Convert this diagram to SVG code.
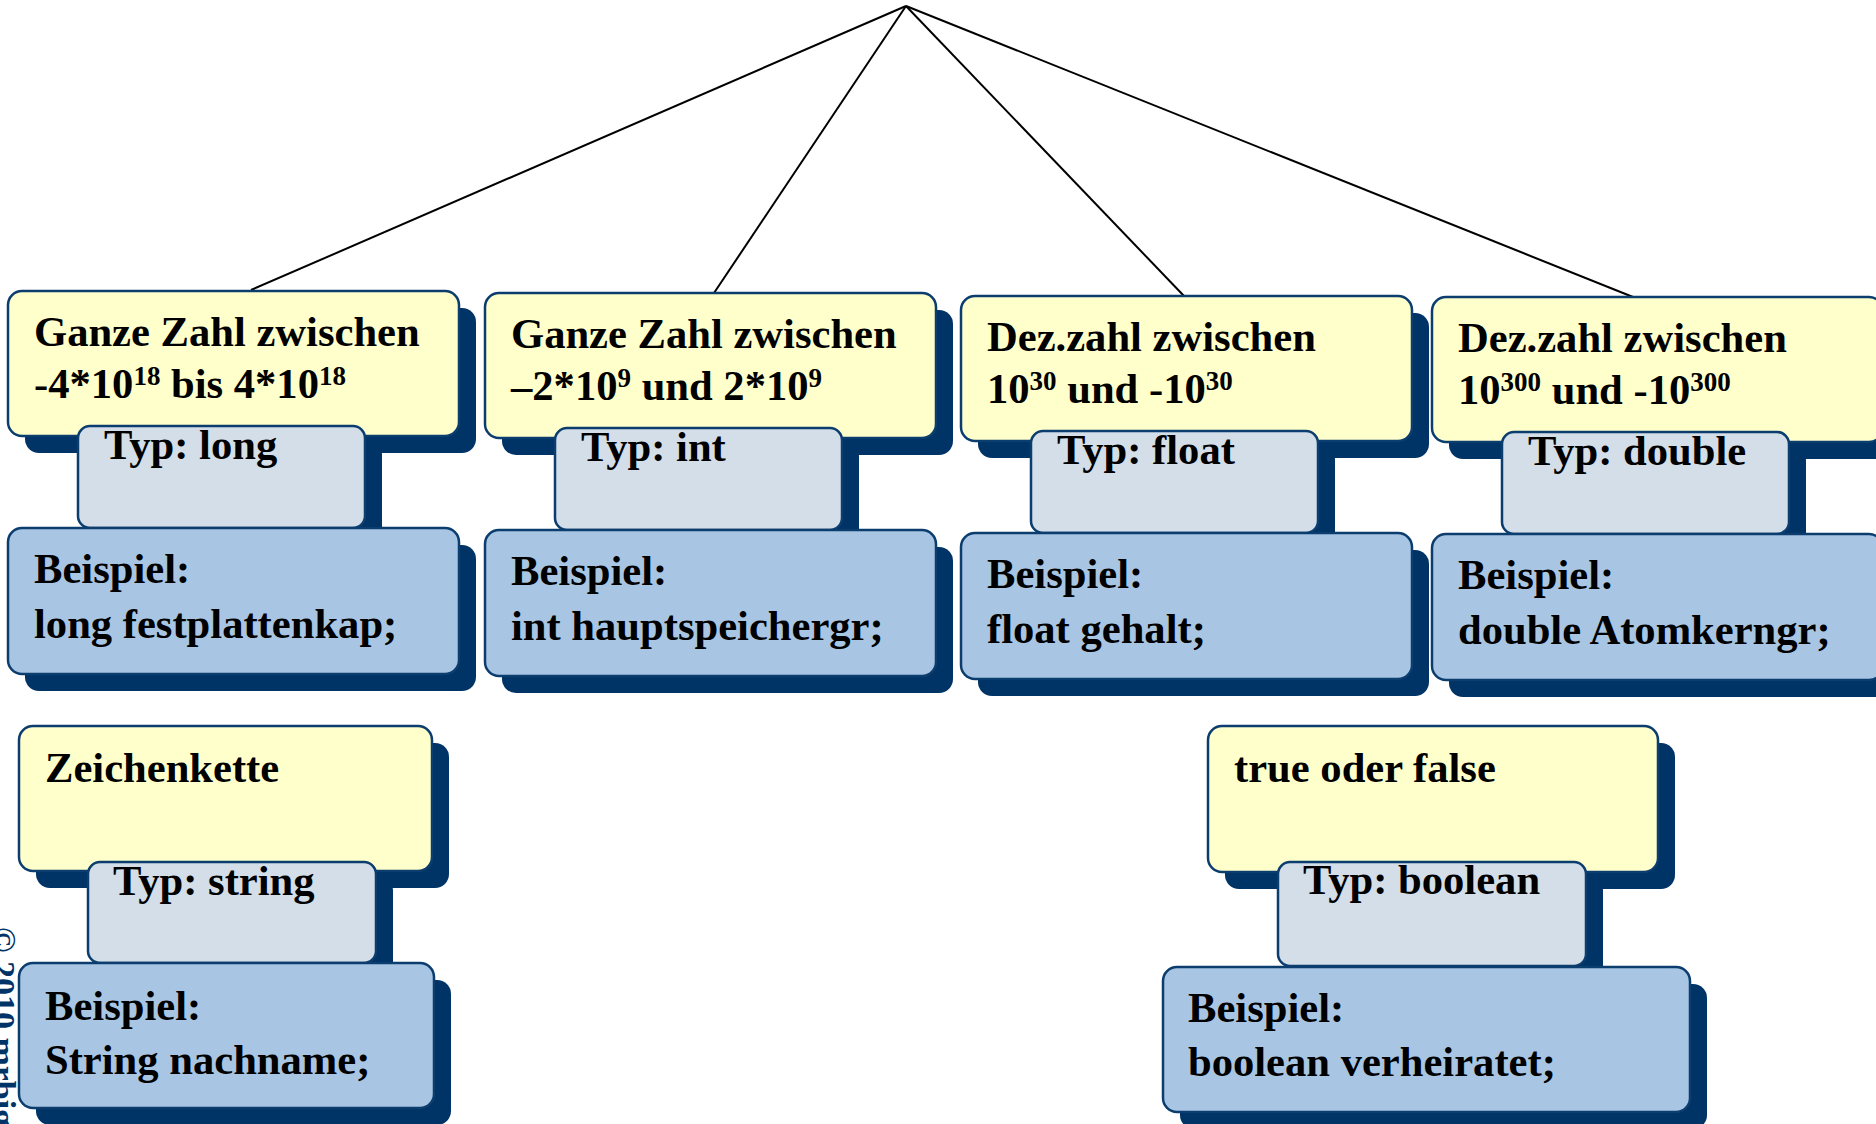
<svg xmlns="http://www.w3.org/2000/svg" width="1876" height="1124" viewBox="0 0 1876 1124">
<style>
.sh{fill:#003366}
.y{fill:#FFFFCC;stroke:#0B3D6E;stroke-width:2.5}
.g{fill:#D3DEE9;stroke:#0B3D6E;stroke-width:2.5}
.b{fill:#A8C6E3;stroke:#0B3D6E;stroke-width:2.5}
text{font-family:"Liberation Serif","Times New Roman",serif;font-weight:bold;font-size:42.6px;fill:#000}
.sup{font-size:27px}
.copy{font-size:34px;fill:#003366}
.c{stroke:#000;stroke-width:2;fill:none}
</style>
<rect width="1876" height="1124" fill="#fff"/>
<g id="connectors">
<line class="c" x1="906" y1="6" x2="251" y2="290"/>
<line class="c" x1="906" y1="6" x2="714" y2="293"/>
<line class="c" x1="906" y1="6" x2="1184" y2="296"/>
<line class="c" x1="906" y1="6" x2="1633" y2="297"/>
</g>
<g id="long" transform="translate(8,291)">
<rect class="sh" x="17" y="17" width="451" height="145" rx="14"/>
<rect class="y" x="0" y="0" width="451" height="145" rx="14"/>
<rect class="sh" x="87" y="152" width="287" height="102" rx="12"/>
<rect class="g" x="70" y="135" width="287" height="102" rx="12"/>
<rect class="sh" x="17" y="254" width="451" height="146" rx="14"/>
<rect class="b" x="0" y="237" width="451" height="146" rx="14"/>
<text x="26" y="55">Ganze Zahl zwischen</text>
<text x="26" y="107">-4*10<tspan class="sup" dy="-13">18</tspan><tspan dy="13"> bis 4*10</tspan><tspan class="sup" dy="-13">18</tspan></text>
<text x="96" y="168">Typ: long</text>
<text x="26" y="292">Beispiel:</text>
<text x="26" y="347">long festplattenkap;</text>
</g>
<g id="int" transform="translate(485,293)">
<rect class="sh" x="17" y="17" width="451" height="145" rx="14"/>
<rect class="y" x="0" y="0" width="451" height="145" rx="14"/>
<rect class="sh" x="87" y="152" width="287" height="102" rx="12"/>
<rect class="g" x="70" y="135" width="287" height="102" rx="12"/>
<rect class="sh" x="17" y="254" width="451" height="146" rx="14"/>
<rect class="b" x="0" y="237" width="451" height="146" rx="14"/>
<text x="26" y="55">Ganze Zahl zwischen</text>
<text x="26" y="107">–2*10<tspan class="sup" dy="-13">9</tspan><tspan dy="13"> und 2*10</tspan><tspan class="sup" dy="-13">9</tspan></text>
<text x="96" y="168">Typ: int</text>
<text x="26" y="292">Beispiel:</text>
<text x="26" y="347">int hauptspeichergr;</text>
</g>
<g id="float" transform="translate(961,296)">
<rect class="sh" x="17" y="17" width="451" height="145" rx="14"/>
<rect class="y" x="0" y="0" width="451" height="145" rx="14"/>
<rect class="sh" x="87" y="152" width="287" height="102" rx="12"/>
<rect class="g" x="70" y="135" width="287" height="102" rx="12"/>
<rect class="sh" x="17" y="254" width="451" height="146" rx="14"/>
<rect class="b" x="0" y="237" width="451" height="146" rx="14"/>
<text x="26" y="55">Dez.zahl zwischen</text>
<text x="26" y="107">10<tspan class="sup" dy="-13">30</tspan><tspan dy="13"> und -10</tspan><tspan class="sup" dy="-13">30</tspan></text>
<text x="96" y="168">Typ: float</text>
<text x="26" y="292">Beispiel:</text>
<text x="26" y="347">float gehalt;</text>
</g>
<g id="double" transform="translate(1432,297)">
<rect class="sh" x="17" y="17" width="451" height="145" rx="14"/>
<rect class="y" x="0" y="0" width="451" height="145" rx="14"/>
<rect class="sh" x="87" y="152" width="287" height="102" rx="12"/>
<rect class="g" x="70" y="135" width="287" height="102" rx="12"/>
<rect class="sh" x="17" y="254" width="451" height="146" rx="14"/>
<rect class="b" x="0" y="237" width="451" height="146" rx="14"/>
<text x="26" y="55">Dez.zahl zwischen</text>
<text x="26" y="107">10<tspan class="sup" dy="-13">300</tspan><tspan dy="13"> und -10</tspan><tspan class="sup" dy="-13">300</tspan></text>
<text x="96" y="168">Typ: double</text>
<text x="26" y="292">Beispiel:</text>
<text x="26" y="347">double Atomkerngr;</text>
</g>
<g id="string">
<rect class="sh" x="36" y="743" width="413" height="145" rx="14"/>
<rect class="y" x="19" y="726" width="413" height="145" rx="14"/>
<rect class="sh" x="105" y="879" width="288" height="101" rx="12"/>
<rect class="g" x="88" y="862" width="288" height="101" rx="12"/>
<rect class="sh" x="36" y="980" width="415" height="145" rx="14"/>
<rect class="b" x="19" y="963" width="415" height="145" rx="14"/>
<text x="45" y="782">Zeichenkette</text>
<text x="113" y="895">Typ: string</text>
<text x="45" y="1020">Beispiel:</text>
<text x="45" y="1074">String nachname;</text>
</g>
<g id="boolean">
<rect class="sh" x="1225" y="743" width="450" height="146" rx="14"/>
<rect class="y" x="1208" y="726" width="450" height="146" rx="14"/>
<rect class="sh" x="1295" y="879" width="308" height="104" rx="12"/>
<rect class="g" x="1278" y="862" width="308" height="104" rx="12"/>
<rect class="sh" x="1180" y="984" width="527" height="145" rx="14"/>
<rect class="b" x="1163" y="967" width="527" height="145" rx="14"/>
<text x="1234" y="782">true oder false</text>
<text x="1303" y="894">Typ: boolean</text>
<text x="1188" y="1022">Beispiel:</text>
<text x="1188" y="1076">boolean verheiratet;</text>
</g>
<text class="copy" transform="translate(-8,927) rotate(90)">© 2010 mrbig</text>
</svg>
